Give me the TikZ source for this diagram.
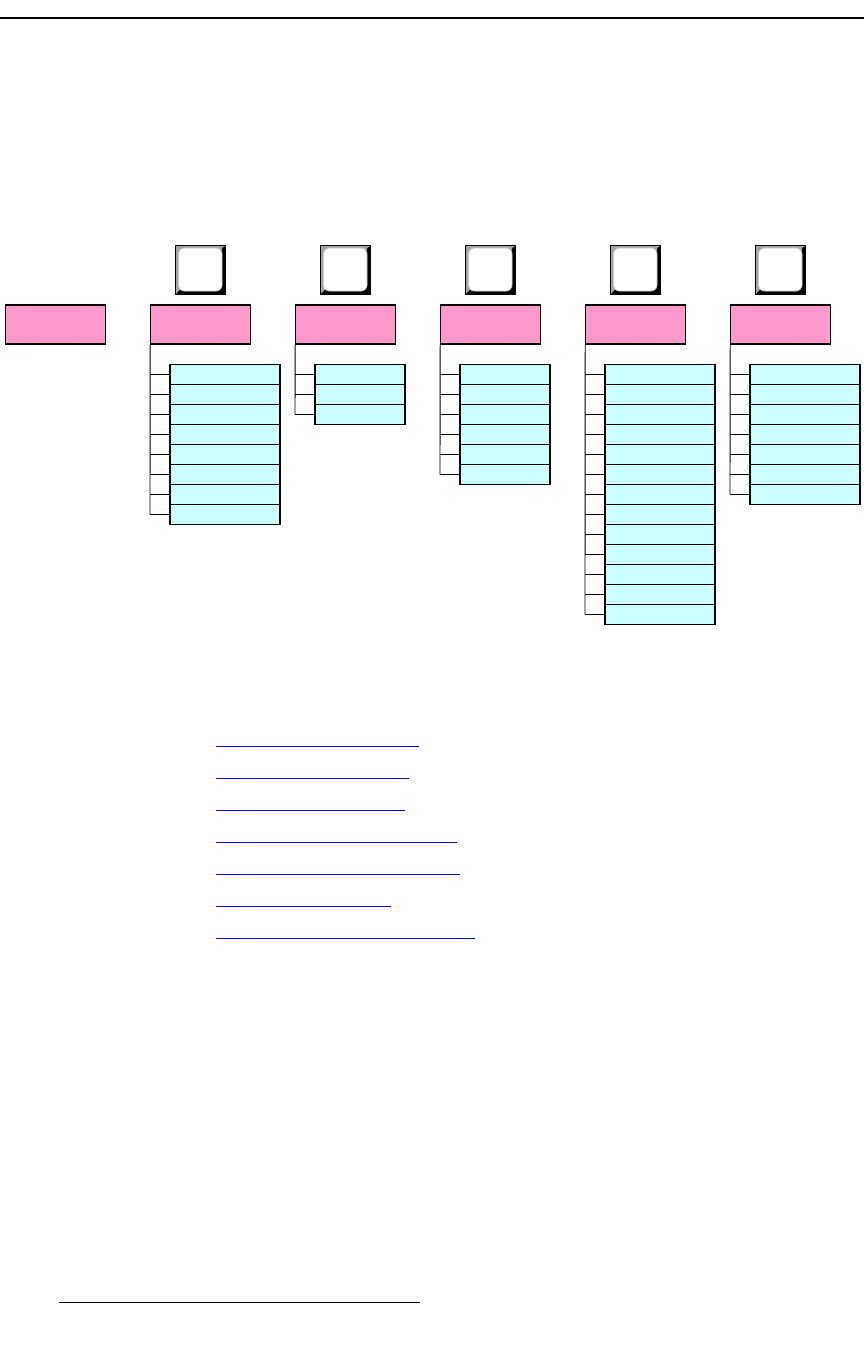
\documentclass[tikz,border=0pt]{standalone}
\definecolor{pinkbox}{RGB}{255,153,204}
\definecolor{cyanrow}{RGB}{204,255,255}
\definecolor{bevel}{RGB}{165,165,165}
\definecolor{linkblue}{RGB}{0,0,255}
\tikzset{
  menubox/.style={draw=black,line width=1.3pt,fill=pinkbox,minimum width=100pt,minimum height=39pt,anchor=north west,inner sep=0pt,outer sep=0pt},
  rowbox/.style={draw=black,line width=0.9pt,fill=cyanrow,minimum height=20pt,anchor=north west,inner sep=0pt,outer sep=0pt},
  framebox/.style={draw=black,line width=1.4pt,fill=none,anchor=north west,inner sep=0pt,outer sep=0pt},
  stub/.style={draw=black,line width=0.9pt},
  keybase/.style={fill=black,draw=none,minimum width=51pt,minimum height=50pt,anchor=north west,inner sep=0pt,outer sep=0pt},
  keyface/.style={fill=white,draw=bevel!60,line width=0.8pt,rounded corners=6pt,minimum width=43.5pt,minimum height=43pt,anchor=north west,inner sep=0pt,outer sep=0pt},
  linkrule/.style={draw=linkblue,line width=1pt},
  blackrule/.style={draw=black}
}
\begin{document}
\begin{tikzpicture}[x=1pt,y=-1pt]
\useasboundingbox (0,0) rectangle (864,1350);
\coordinate (ruleL) at (0,18); \coordinate (ruleR) at (864,18);
\draw[blackrule,line width=2pt] (ruleL) -- (ruleR);
\node[menubox] (m0) at (5.2,305) {};
\foreach \c/\x/\n/\w in {1/150/8/110,2/295/3/90,3/440/6/90,4/585/13/110,5/730/7/110}{
  \node[menubox] (m\c) at (\x+0.2,305) {};
  \node[keybase] (k\c) at (\x+25,245) {};
  \fill[bevel] (\x+26,246) -- (\x+75,246) -- (\x+72,248) -- (\x+72,250) -- (\x+28.5,291) -- (\x+26,294) -- cycle;
  \node[keyface] (f\c) at (\x+28.5,248) {};
  \foreach \r in {1,...,\n}{
    \node[rowbox,minimum width=\w pt] (r\c-\r) at (\x+20,344.5+20*\r) {};
    \draw[stub] (r\c-\r.west) -- ++(-20,0) coordinate (s\c-\r);
  }
  \draw[stub] (m\c.south west) -- (s\c-\n);
  \node[framebox,minimum width=\w pt,minimum height=\n*20pt] (b\c) at (\x+20,364.5) {};
}
\foreach \r in {8,9,10,11,12}{
  \draw[black,line width=1.9pt] (r4-\r.south west) -- (r4-\r.south east);
}
\draw[black,line width=0.9pt] (r4-8.south west) -- (r4-8.south east);
\foreach \y/\e in {746/419,778/409,810/405,842/457,874/460,906/391,938/475}{
  \coordinate (la\y) at (216,\y); \coordinate (lb\y) at (\e,\y);
  \draw[linkrule] (la\y) -- (lb\y);
}
\coordinate (footL) at (59,1302.7); \coordinate (footR) at (420,1302.7);
\draw[blackrule,line width=1pt] (footL) -- (footR);
\end{tikzpicture}
\end{document}
